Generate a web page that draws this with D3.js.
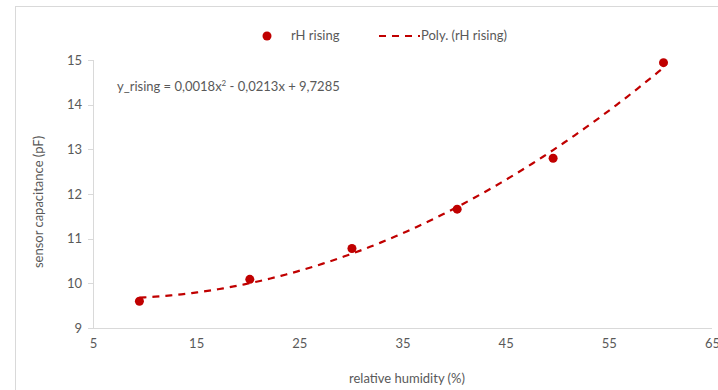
<!DOCTYPE html>
<html lang="en">
<head>
  <meta charset="UTF-8">
  <title>Sensor capacitance vs relative humidity</title>
  <script src="https://d3js.org/d3.v7.min.js"></script>
  <style>
    body { margin: 0; background: #fff; font-family: Lato, "Open Sans", Arial, sans-serif; }
    .axis path, .axis line { stroke: #d9d9d9; shape-rendering: crispEdges; }
    .axis text { fill: #595959; font-size: 13px; font-family: Lato, sans-serif; }
    .lbl { fill: #595959; font-size: 13px; }
  </style>
</head>
<body>
  <div id="chart"></div>
  <script>
    // measured points
    const humidity = [9.5, 20.2, 30.1, 40.3, 49.6, 60.3];
    const capacitance = [9.6, 10.09, 10.78, 11.66, 12.8, 14.94];

    const xTicks = [5, 15, 25, 35, 45, 55, 65];
    const yTicks = [9, 10, 11, 12, 13, 14, 15];

    const W = 718, H = 390;
    const margin = { top: 60, left: 93 };
    const width = 712 - margin.left;
    const height = 328 - margin.top;

    const svg = d3.select("#chart").append("svg")
      .attr("width", W)
      .attr("height", H);

    // chart border
    svg.append("rect")
      .attr("x", 15.5).attr("y", 6.5)
      .attr("width", W).attr("height", H)
      .attr("fill", "none").attr("stroke", "#d9d9d9");

    const g = svg.append("g")
      .attr("transform", `translate(${margin.left},${margin.top})`);

    const x = d3.scaleLinear().domain([5, 65]).range([0, width]);
    const y = d3.scaleLinear().domain([9, 15]).range([height, 0]);

    g.append("g")
      .attr("class", "axis")
      .attr("transform", `translate(0,${height})`)
      .call(d3.axisBottom(x).tickValues(xTicks).tickSize(0).tickPadding(11))
      .call(a => a.select(".domain").attr("d", `M0,0.5H${width}`));

    g.append("g")
      .attr("class", "axis")
      .call(d3.axisLeft(y).tickValues(yTicks).tickFormat(d3.format("d")).tickSize(5).tickPadding(6))
      .call(a => a.select(".domain").attr("d", `M0.5,0V${height}`));

    // least-squares quadratic trendline (like Excel's "Poly." order 2)
    function fitQuad(xs, ys) {
      const S = k => d3.sum(xs, v => Math.pow(v, k));
      const T = k => d3.sum(xs, (v, i) => Math.pow(v, k) * ys[i]);
      const A = [[S(4), S(3), S(2)], [S(3), S(2), S(1)], [S(2), S(1), xs.length]];
      const b = [T(2), T(1), T(0)];
      // gaussian elimination
      for (let i = 0; i < 3; i++) {
        for (let j = i + 1; j < 3; j++) {
          const f = A[j][i] / A[i][i];
          for (let k = i; k < 3; k++) A[j][k] -= f * A[i][k];
          b[j] -= f * b[i];
        }
      }
      const c = [0, 0, 0];
      for (let i = 2; i >= 0; i--) {
        let s = b[i];
        for (let k = i + 1; k < 3; k++) s -= A[i][k] * c[k];
        c[i] = s / A[i][i];
      }
      return c;
    }
    const coef = fitQuad(humidity, capacitance);
    const poly = v => coef[0] * v * v + coef[1] * v + coef[2];
    const x0 = d3.min(humidity), x1 = d3.max(humidity);
    const trend = d3.range(0, 101).map(i => {
      const v = x0 + (x1 - x0) * i / 100;
      return [v, poly(v)];
    });

    g.append("path")
      .datum(trend)
      .attr("fill", "none")
      .attr("stroke", "#c00000")
      .attr("stroke-width", 2.2)
      .attr("stroke-dasharray", "7,6")
      .attr("d", d3.line().x(d => x(d[0])).y(d => y(d[1])));

    g.selectAll(".pt")
      .data(humidity.map((h, i) => [h, capacitance[i]]))
      .enter().append("circle")
      .attr("class", "pt")
      .attr("cx", d => x(d[0]))
      .attr("cy", d => y(d[1]))
      .attr("r", 4.5)
      .attr("fill", "#c00000");

    // equation label
    svg.append("text")
      .attr("class", "lbl")
      .attr("x", 117).attr("y", 91)
      .html("y_rising = 0,0018x<tspan font-size='8px' dy='-5'>2</tspan><tspan dy='5'> - 0,0213x + 9,7285</tspan>");

    // axis titles
    svg.append("text")
      .attr("class", "lbl")
      .attr("text-anchor", "middle")
      .attr("x", 407).attr("y", 383)
      .text("relative humidity (%)");

    svg.append("text")
      .attr("class", "lbl")
      .attr("text-anchor", "middle")
      .attr("transform", "translate(43,202) rotate(-90)")
      .text("sensor capacitance (pF)");

    // legend
    const leg = svg.append("g");
    leg.append("circle")
      .attr("cx", 267).attr("cy", 36).attr("r", 4.5).attr("fill", "#c00000");
    leg.append("text").attr("class", "lbl")
      .attr("x", 291).attr("y", 40).text("rH rising");
    leg.append("line")
      .attr("x1", 379).attr("x2", 420).attr("y1", 36).attr("y2", 36)
      .attr("stroke", "#c00000").attr("stroke-width", 2.2)
      .attr("stroke-dasharray", "7,6");
    leg.append("text").attr("class", "lbl")
      .attr("x", 421).attr("y", 40).text("Poly. (rH rising)");
  </script>
</body>
</html>
